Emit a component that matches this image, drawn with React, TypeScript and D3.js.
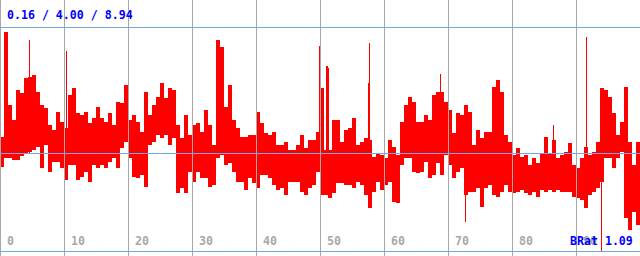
import React from "react";
import * as d3 from "d3";

const W = 640;
const H = 256;

// axis tick labels (x axis units 0..100)
const xTicks = [0, 10, 20, 30, 40, 50, 60, 70, 80, 90];

// reference lines: min / mean / max
const refMin = 0.16;
const refMean = 4.0;
const refMax = 8.94;

const statsText = "0.16 / 4.00 / 8.94";
const bratText = "BRat 1.09";

// per-bin envelope of the dense series: 160 bins over 0..100
const hiVals = [
  4.63, 8.75, 5.88, 5.29, 6.47, 6.35, 6.94, 6.98, 7.06, 6.39,
  5.88, 5.76, 5.10, 4.90, 5.61, 5.22, 4.98, 6.27, 6.55, 5.57,
  5.49, 5.61, 5.18, 5.37, 5.80, 5.37, 5.22, 5.57, 5.10, 6.00,
  5.96, 6.67, 5.29, 5.49, 5.22, 4.82, 6.39, 5.49, 5.88, 6.20,
  6.75, 6.16, 6.55, 6.47, 5.10, 4.59, 5.49, 4.71, 5.10, 5.18,
  4.82, 5.69, 5.10, 4.31, 8.43, 8.16, 5.80, 6.67, 5.29, 4.98,
  4.63, 4.63, 4.71, 4.71, 5.61, 5.18, 4.78, 4.71, 4.82, 4.31,
  4.31, 4.43, 4.12, 4.12, 4.31, 4.71, 4.20, 4.51, 4.51, 4.82,
  6.55, 4.12, 4.12, 5.29, 5.29, 4.43, 4.90, 4.98, 5.37, 4.31,
  4.43, 4.59, 4.51, 3.84, 4.00, 3.92, 3.80, 4.51, 4.24, 3.92,
  5.22, 5.88, 6.20, 6.00, 5.22, 5.22, 5.49, 5.29, 6.27, 6.39,
  6.39, 6.00, 5.69, 4.78, 5.57, 5.49, 5.88, 5.61, 4.31, 4.90,
  4.59, 4.82, 4.82, 6.59, 6.86, 6.39, 4.71, 4.43, 3.92, 4.20,
  3.84, 3.92, 3.53, 3.80, 3.61, 4.00, 4.63, 4.00, 4.51, 3.80,
  3.92, 4.04, 4.39, 3.53, 3.41, 3.80, 4.24, 3.92, 4.04, 4.43,
  6.55, 6.47, 6.20, 5.57, 4.71, 5.22, 6.59, 4.43, 3.53, 4.43,
];

const loVals = [
  3.45, 3.80, 3.80, 3.73, 3.73, 3.90, 3.95, 4.04, 4.12, 4.24,
  3.41, 4.31, 3.25, 3.65, 3.65, 3.41, 2.94, 3.53, 3.53, 2.94,
  3.06, 3.25, 2.86, 3.53, 3.41, 3.53, 3.41, 3.65, 3.80, 3.41,
  4.20, 4.43, 3.80, 3.06, 3.02, 3.14, 2.67, 4.31, 4.43, 4.71,
  4.59, 4.71, 4.31, 4.59, 2.43, 2.63, 2.43, 3.25, 2.86, 3.25,
  3.02, 3.02, 2.67, 2.75, 3.80, 3.92, 3.53, 3.61, 3.25, 2.86,
  2.86, 2.55, 3.02, 2.82, 2.63, 3.14, 3.14, 3.02, 2.75, 2.55,
  2.63, 2.35, 2.86, 2.86, 2.86, 2.47, 2.35, 2.63, 2.75, 3.25,
  2.35, 2.35, 2.24, 2.43, 2.82, 2.82, 2.75, 2.75, 2.63, 2.86,
  2.75, 2.35, 1.84, 2.47, 2.86, 2.55, 2.75, 2.86, 2.08, 2.04,
  3.53, 3.80, 3.80, 3.25, 3.22, 3.25, 3.65, 3.02, 3.14, 3.61,
  3.14, 3.92, 3.53, 3.02, 3.25, 3.41, 2.35, 2.47, 2.47, 2.63,
  1.88, 2.63, 2.75, 2.35, 2.27, 2.47, 2.75, 2.47, 2.43, 2.47,
  2.55, 2.43, 2.35, 2.47, 2.27, 2.55, 2.47, 2.55, 2.47, 2.55,
  2.47, 2.47, 2.47, 2.27, 2.24, 2.16, 1.84, 2.35, 2.47, 2.63,
  2.86, 3.80, 3.80, 3.41, 3.80, 4.04, 1.45, 0.98, 1.69, 1.18,
];

// isolated single-sample excursions (position in axis units, value)
const spikeT = [0, 4.53, 10.31, 49.84, 50.0, 50.94, 51.09, 51.25, 57.5, 57.66, 68.75, 72.66, 86.41, 91.56, 93.91];
const spikeV = [0.16, 8.43, 8.0, 8.2, 8.94, 7.41, 7.41, 7.33, 6.75, 8.31, 7.1, 1.29, 5.1, 8.55, 0.16];

const FONT = "'DejaVu Sans Mono', 'Liberation Mono', monospace";

export default function App() {
  const x = d3.scaleLinear().domain([0, 100]).range([0, W]);
  const y = d3.scaleLinear().domain([refMin, refMax]).range([251, 27]);
  const step = 100 / hiVals.length;

  return (
    <svg
      width={W}
      height={H}
      style={{ position: "absolute", left: 0, top: 0, background: "#fff", display: "block" }}
      shapeRendering="crispEdges"
    >
      <rect x={0} y={0} width={W} height={H} fill="#ffffff" />
      {/* envelope bins */}
      <g fill="#ff0000">
        {hiVals.map((hv, i) => {
          const x0 = Math.round(x(i * step));
          const x1 = Math.round(x((i + 1) * step));
          const top = Math.round(y(Math.max(hv, loVals[i])));
          const bot = Math.round(y(Math.min(hv, loVals[i])));
          return <rect key={"b" + i} x={x0} y={top} width={x1 - x0} height={Math.max(1, bot - top)} />;
        })}
        {spikeT.map((t, i) => {
          const px = Math.round(x(t));
          const a = Math.round(y(Math.max(spikeV[i], refMean)));
          const b = Math.round(y(Math.min(spikeV[i], refMean)));
          return <rect key={"s" + i} x={px} y={a} width={1} height={b - a} />;
        })}
      </g>
      {/* vertical grid */}
      <g fill="#a8a8a8">
        {xTicks.map((t) => (
          <rect key={"g" + t} x={Math.round(x(t))} y={0} width={1} height={H} />
        ))}
      </g>
      {/* horizontal reference lines */}
      <g fill="#70a8e8">
        {[refMax, refMean, refMin].map((v) => (
          <rect key={"h" + v} x={0} y={Math.round(y(v))} width={W} height={1} />
        ))}
      </g>
      {/* tick labels */}
      <g fill="#a8a8a8" fontFamily={FONT} fontWeight="bold" fontSize="11.6px">
        {xTicks.map((t) => (
          <text key={"l" + t} x={Math.round(x(t)) + 7} y={245}>
            {t}
          </text>
        ))}
      </g>
      <text x={7} y={19} fill="#0000ff" fontFamily={FONT} fontWeight="bold" fontSize="11.6px">
        {statsText}
      </text>
      <text x={570} y={245} fill="#0000ff" fontFamily={FONT} fontWeight="bold" fontSize="11.6px">
        {bratText}
      </text>
    </svg>
  );
}
